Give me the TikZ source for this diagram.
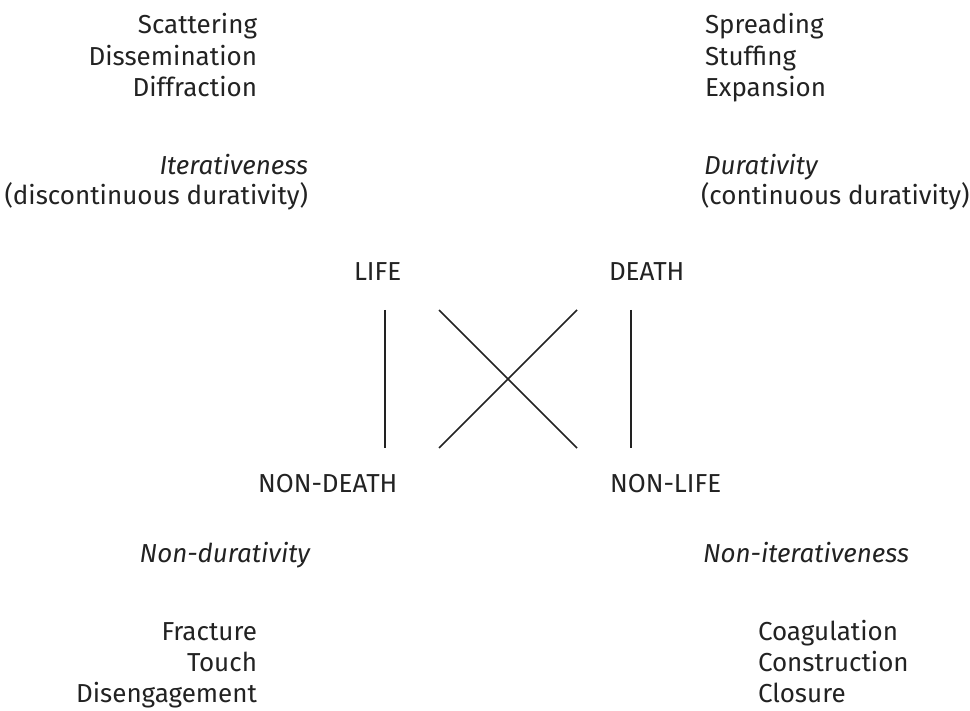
\documentclass[tikz,border=0pt]{standalone}
\usepackage{fontspec}
\setmainfont{Fira Sans}
\definecolor{ink}{HTML}{222222}
\begin{document}
\begin{tikzpicture}[x=1pt,y=-1pt,
  txt/.style={inner sep=0pt,outer sep=0pt,text=ink,font=\fontsize{26}{31}\selectfont},
  itxt/.style={txt,font=\fontsize{26}{31}\selectfont\itshape},
  rline/.style={anchor=base east},
  lline/.style={anchor=base west},
  link/.style={draw=ink,line width=1.6pt}]
\useasboundingbox (0,0) rectangle (970,711);
% top-left
\node[txt,rline] (scat) at (257,34) {Scattering};
\node[txt,rline] (diss) at (257,66) {Dissemination};
\node[txt,rline] (diff) at (257,97) {Diffraction};
\node[itxt,rline] (iter) at (308,175) {Iterativeness};
\node[txt,rline] (disc) at (308,205) {(discontinuous durativity)};
% top-right
\node[txt,lline] (spre) at (705,34) {Spreading};
\node[txt,lline] (stuf) at (705,66) {Stuffing};
\node[txt,lline] (expa) at (705,97) {Expansion};
\node[itxt,lline] (dura) at (704,175) {Durativity};
\node[txt,lline] (cont) at (701,205) {(continuous durativity)};
% square terms
\node[txt,lline] (life) at (354,281) {LIFE};
\node[txt,lline] (death) at (609,281) {DEATH};
\node[txt,lline] (nondeath) at (258,492) {NON-DEATH};
\node[txt,lline] (nonlife) at (610,492) {NON-LIFE};
% bottom
\node[itxt,rline] (nondur) at (310,562) {Non-durativity};
\node[itxt,lline] (noniter) at (703,562) {Non-iterativeness};
\node[txt,rline] (frac) at (257,640) {Fracture};
\node[txt,rline] (touc) at (257,671) {Touch};
\node[txt,rline] (dise) at (257,702) {Disengagement};
\node[txt,lline] (coag) at (758,640) {Coagulation};
\node[txt,lline] (cons) at (758,671) {Construction};
\node[txt,lline] (clos) at (758,702) {Closure};
% connectors
\coordinate (lt) at (385,310);
\coordinate (lb) at (385,448);
\coordinate (rt) at (631,310);
\coordinate (rb) at (631,448);
\coordinate (xtl) at (439,310);
\coordinate (xbr) at (577,448);
\coordinate (xtr) at (577,310);
\coordinate (xbl) at (439,448);
\draw[link] (lt) -- (lb);
\draw[link] (rt) -- (rb);
\draw[link] (xtl) -- (xbr);
\draw[link] (xtr) -- (xbl);
\end{tikzpicture}
\end{document}
